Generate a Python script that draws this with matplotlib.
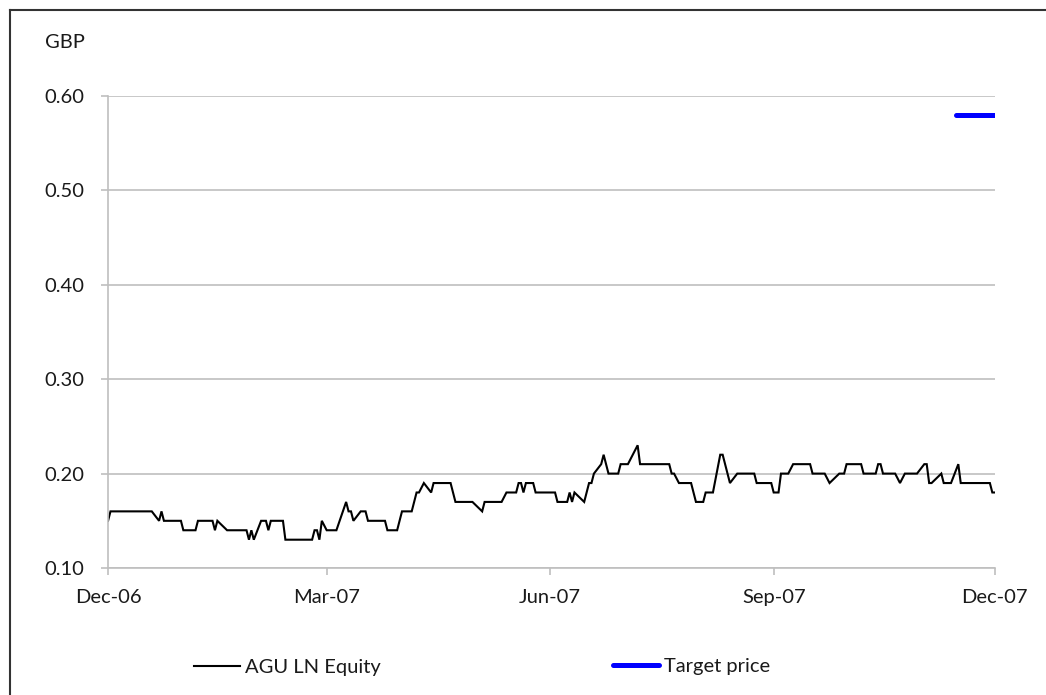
import matplotlib
matplotlib.use("Agg")
import matplotlib.pyplot as plt
import pandas as pd
from matplotlib.lines import Line2D

plt.rcParams['font.family'] = ['Lato', 'DejaVu Sans']

# AGU LN Equity closing prices (GBP), points where the price moves
price_dates = [
    '2006-12-01', '2006-12-02', '2006-12-19', '2006-12-22', '2006-12-23', '2006-12-24',
    '2006-12-31', '2007-01-01', '2007-01-06', '2007-01-07', '2007-01-13', '2007-01-14',
    '2007-01-15', '2007-01-19', '2007-01-27', '2007-01-28', '2007-01-29', '2007-01-30',
    '2007-02-02', '2007-02-04', '2007-02-05', '2007-02-06', '2007-02-11', '2007-02-12',
    '2007-02-23', '2007-02-24', '2007-02-25', '2007-02-26', '2007-02-27', '2007-03-01',
    '2007-03-05', '2007-03-09', '2007-03-10', '2007-03-11', '2007-03-12', '2007-03-15',
    '2007-03-17', '2007-03-18', '2007-03-25', '2007-03-26', '2007-03-30', '2007-04-01',
    '2007-04-05', '2007-04-07', '2007-04-08', '2007-04-10', '2007-04-13', '2007-04-14',
    '2007-04-21', '2007-04-23', '2007-04-30', '2007-05-04', '2007-05-05', '2007-05-12',
    '2007-05-14', '2007-05-18', '2007-05-19', '2007-05-20', '2007-05-21', '2007-05-22',
    '2007-05-25', '2007-05-26', '2007-06-03', '2007-06-04', '2007-06-08', '2007-06-09',
    '2007-06-10', '2007-06-11', '2007-06-15', '2007-06-17', '2007-06-18', '2007-06-19',
    '2007-06-22', '2007-06-23', '2007-06-25', '2007-06-29', '2007-06-30', '2007-07-03',
    '2007-07-05', '2007-07-07', '2007-07-08', '2007-07-20', '2007-07-21', '2007-07-22',
    '2007-07-24', '2007-07-29', '2007-07-31', '2007-08-03', '2007-08-04', '2007-08-07',
    '2007-08-10', '2007-08-11', '2007-08-12', '2007-08-14', '2007-08-17', '2007-08-24',
    '2007-08-25', '2007-08-31', '2007-09-01', '2007-09-03', '2007-09-04', '2007-09-07',
    '2007-09-09', '2007-09-16', '2007-09-17', '2007-09-22', '2007-09-24', '2007-09-28',
    '2007-09-30', '2007-10-01', '2007-10-07', '2007-10-08', '2007-10-13', '2007-10-14',
    '2007-10-15', '2007-10-16', '2007-10-21', '2007-10-23', '2007-10-25', '2007-10-30',
    '2007-11-02', '2007-11-03', '2007-11-04', '2007-11-05', '2007-11-09', '2007-11-10',
    '2007-11-13', '2007-11-16', '2007-11-17', '2007-11-29', '2007-11-30', '2007-12-01',
]
price_values = [
    0.15, 0.16, 0.16, 0.15, 0.16, 0.15,
    0.15, 0.14, 0.14, 0.15, 0.15, 0.14,
    0.15, 0.14, 0.14, 0.13, 0.14, 0.13,
    0.15, 0.15, 0.14, 0.15, 0.15, 0.13,
    0.13, 0.14, 0.14, 0.13, 0.15, 0.14,
    0.14, 0.17, 0.16, 0.16, 0.15, 0.16,
    0.16, 0.15, 0.15, 0.14, 0.14, 0.16,
    0.16, 0.18, 0.18, 0.19, 0.18, 0.19,
    0.19, 0.17, 0.17, 0.16, 0.17, 0.17,
    0.18, 0.18, 0.19, 0.19, 0.18, 0.19,
    0.19, 0.18, 0.18, 0.17, 0.17, 0.18,
    0.17, 0.18, 0.17, 0.19, 0.19, 0.20,
    0.21, 0.22, 0.20, 0.20, 0.21, 0.21,
    0.22, 0.23, 0.21, 0.21, 0.20, 0.20,
    0.19, 0.19, 0.17, 0.17, 0.18, 0.18,
    0.22, 0.22, 0.21, 0.19, 0.20, 0.20,
    0.19, 0.19, 0.18, 0.18, 0.20, 0.20,
    0.21, 0.21, 0.20, 0.20, 0.19, 0.20,
    0.20, 0.21, 0.21, 0.20, 0.20, 0.21,
    0.21, 0.20, 0.20, 0.19, 0.20, 0.20,
    0.21, 0.21, 0.19, 0.19, 0.20, 0.19,
    0.19, 0.21, 0.19, 0.19, 0.18, 0.18,
]

target_dates = ['2007-11-15', '2007-12-01']
target_values = [0.58, 0.58]

tick_dates = ['2006-12-01', '2007-03-01', '2007-06-01', '2007-09-01', '2007-12-01']
tick_labels = ['Dec-06', 'Mar-07', 'Jun-07', 'Sep-07', 'Dec-07']
y_ticks = [0.10, 0.20, 0.30, 0.40, 0.50, 0.60]

grid_col = '#bfbfbf'
text_col = '#1a1a1a'
fs = 14.5

fig = plt.figure(figsize=(10.46, 6.95), dpi=100)
ax = fig.add_axes([0.1033, 0.1827, 0.8477, 0.6793])

ax.plot(pd.to_datetime(price_dates), price_values, color='black', lw=1.5,
        solid_joinstyle='miter')
ax.plot(pd.to_datetime(target_dates), target_values, color='#0000ff', lw=3.6,
        solid_capstyle='round')

ax.set_ylim(0.10, 0.60)
ax.set_xlim(pd.Timestamp('2006-12-01'), pd.Timestamp('2007-12-01'))
ax.set_yticks(y_ticks)
ax.set_yticklabels([f'{v:.2f}' for v in y_ticks])
ax.set_xticks(pd.to_datetime(tick_dates))
ax.set_xticklabels(tick_labels)

ax.yaxis.grid(True, color=grid_col, lw=1.2)
ax.set_axisbelow(True)
for side in ['top', 'right']:
    ax.spines[side].set_visible(False)
for side in ['left', 'bottom']:
    ax.spines[side].set_color(grid_col)
    ax.spines[side].set_linewidth(1.2)
ax.tick_params(axis='y', length=5, width=1.2, color=grid_col, labelsize=fs,
               labelcolor=text_col, pad=12)
ax.tick_params(axis='x', length=5, width=1.2, color=grid_col, labelsize=fs,
               labelcolor=text_col, pad=10)

fig.text(45 / 1046, 1 - 42 / 695, 'GBP', fontsize=fs, color=text_col,
         va='center', ha='left')

# outer frame of the exhibit
fig.add_artist(Line2D([10 / 1046, 10 / 1046], [0, 1 - 10 / 695], color='#333333',
                      lw=1.5, transform=fig.transFigure))
fig.add_artist(Line2D([10 / 1046, 1], [1 - 10 / 695, 1 - 10 / 695], color='#333333',
                      lw=1.5, transform=fig.transFigure))

# one legend per series so each sits where it belongs under the plot
legend_kw = dict(loc='center left', frameon=False, fontsize=fs, handlelength=2.3,
                 handletextpad=0.25, borderpad=0, borderaxespad=0, labelcolor=text_col)
fig.legend([Line2D([0], [0], color='black', lw=1.5)], ['AGU LN Equity'],
           bbox_to_anchor=(194 / 1046, 1 - 667 / 695), **legend_kw)
fig.legend([Line2D([0], [0], color='#0000ff', lw=3.6, solid_capstyle='round')],
           ['Target price'], bbox_to_anchor=(613 / 1046, 1 - 666 / 695), **legend_kw)

fig.savefig('out.png', dpi=100)
